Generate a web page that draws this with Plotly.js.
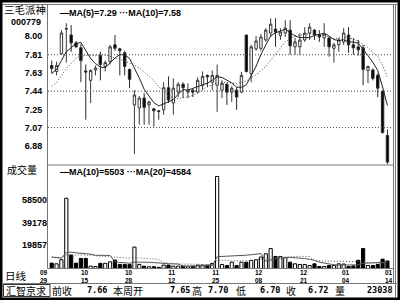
<!DOCTYPE html>
<html><head><meta charset="utf-8">
<script src="https://cdn.plot.ly/plotly-3.0.1.min.js"></script>
<style>html,body{margin:0;padding:0;background:#fff}#chart{width:400px;height:300px}</style>
</head><body><div id="chart"></div>
<script>
// ---- data (daily candles, 70 days) ----
const openP  = [7.70,7.64,7.82,8.07,8.01,7.93,7.88,7.645,7.55,7.655, 7.80,7.69,7.74,7.91,7.87,7.83,7.66,7.30,7.27,7.37, 7.30,7.26,7.24,7.25,7.475,7.32,7.43,7.51,7.43,7.45, 7.43,7.50,7.60,7.53,7.50,7.45,7.51,7.43,7.45,7.43, 8.01,7.62,7.87,7.875,7.96,8.03,8.07,8.005,8.03,8.06, 7.89,7.89,7.96,8.03,8.06,8.01,7.98,7.98,7.875,7.91, 7.94,8.01,7.91,7.89,7.88,7.65,7.655,7.60,7.44,6.99];
const highP  = [7.75,7.74,8.06,8.13,8.11,7.95,7.92,7.71,7.66,7.70, 7.84,7.75,7.91,8.01,7.88,7.85,7.67,7.45,7.39,7.42, 7.34,7.27,7.245,7.53,7.59,7.57,7.53,7.53,7.52,7.47, 7.58,7.64,7.61,7.65,7.71,7.55,7.52,7.49,7.48,7.635, 8.01,7.91,8.00,8.02,8.08,8.18,8.18,8.08,8.16,8.16, 7.98,8.03,8.09,8.13,8.07,8.06,8.13,7.99,7.93,7.98, 8.08,8.09,7.98,7.96,7.91,7.70,7.67,7.62,7.44,7.05];
const lowP   = [7.62,7.60,7.81,7.73,7.84,7.88,7.53,7.15,7.32,7.60, 7.55,7.64,7.71,7.85,7.60,7.60,7.47,6.80,7.10,7.10, 7.10,7.08,7.15,7.20,7.32,7.20,7.38,7.37,7.37,7.38, 7.42,7.45,7.48,7.45,7.23,7.37,7.30,7.33,7.25,7.42, 7.63,7.53,7.85,7.85,7.94,7.99,7.89,7.96,7.99,7.81, 7.81,7.81,7.94,7.96,7.96,7.94,7.89,7.79,7.73,7.84, 7.91,7.83,7.81,7.80,7.50,7.52,7.55,7.38,7.01,6.70];
const closeP = [7.67,7.70,8.03,8.075,7.93,7.89,7.75,7.635,7.65,7.675, 7.71,7.73,7.89,7.875,7.85,7.69,7.56,7.40,7.37,7.275, 7.33,7.24,7.235,7.475,7.35,7.47,7.51,7.475,7.45,7.43, 7.55,7.59,7.585,7.60,7.60,7.52,7.43,7.47,7.38,7.60, 7.64,7.89,7.95,7.99,8.06,8.12,8.04,8.04,8.08,7.90, 7.94,7.96,8.03,8.09,8.01,7.99,8.02,7.89,7.91,7.96, 8.03,7.91,7.88,7.86,7.66,7.69,7.57,7.47,7.02,6.72];
const volume = [4600,4000,7500,60000,11500,4600,8600,8600,2000,1700, 4400,4400,5700,7200,3500,3500,3500,18300,3500,2000, 1500,1500,1000,2900,2900,2000,2000,2000,1500,2000, 2900,2900,2900,4300,78600,3400,2600,5400,2600,5400, 5400,6900,7500,9800,12600,17000,10300,10300,9200,5400, 4000,3400,3400,2600,4000,1700,1700,2600,2600,4000, 3800,1700,2200,7000,17000,2600,2600,3400,8000,6400];
const priorClose  = [7.30,7.35,7.38,7.40,7.37,7.50,7.58,7.62,7.73];
const priorVolume = [8500,9000,7500,10000,8000,9500,8000,9000,8500,9000,11000,10000,12000,9000,10500,11000,9500,10000,11000];

const priceTicks  = [6.88, 7.07, 7.25, 7.44, 7.63, 7.81, 8.00];
const gridLevels  = [7.07, 7.44, 7.81];
const volumeTicks = [19857, 39178, 58500];
const dateTickIdx = [6.8, 15.9, 24.7, 33.8, 42.6, 51.8, 60.5, 69.3];
const dateMonths  = ['10','10','11','11','12','12','01','01'];
const dateDays    = ['15','28','12','25','08','21','04','14'];
const firstDate   = ['09','29'];

const stockName = '三毛派神', stockCode = '000779';
const priceLegend = '—MA(5)=7.29 ···MA(10)=7.58';
const volLegend   = '—MA(10)=5503 ···MA(20)=4584';
const statusItems = [['汇智京求',26,'cjk'],['前收',62,'cjk'],['7.66',97,'num'],['本周开',128,'cjk'],['7.65',180,'num'],['高',197,'cjk'],['7.70',218,'num'],['低',241,'cjk'],['6.70',270,'num'],['收',291,'cjk'],['6.72',318,'num'],['量',340,'cjk'],['23038',380,'num']];

// ---- helpers ----
const W = 400, H = 300;
const px = x => x / W, py = y => 1 - y / H;
const idx = closeP.map((_, i) => i);
function movingAvg(prior, data, n) {
  const all = prior.concat(data), off = prior.length;
  return data.map((_, i) => {
    let s = 0; for (let k = off + i - n + 1; k <= off + i; k++) s += all[k];
    return s / n;
  });
}
const ma5 = movingAvg(priorClose, closeP, 5);
const ma10 = movingAvg(priorClose, closeP, 10);
const vma10 = movingAvg(priorVolume, volume, 10);
const vma20 = movingAvg(priorVolume, volume, 20);
const up = closeP.map((c, i) => c >= openP[i]);

const xRange = [-0.76, 70.14];
const NUM = 'Liberation Sans', MONO = 'DejaVu Sans Mono', CJK = 'Noto Sans CJK SC';

const traces = [
  {type:'candlestick', x:idx, open:openP, high:highP, low:lowP, close:closeP, xaxis:'x', yaxis:'y',
   increasing:{line:{color:'#3a3a3a', width:1}, fillcolor:'#ffffff'},
   decreasing:{line:{color:'#2a2a2a', width:1}, fillcolor:'#000000'},
   whiskerwidth:0, hoverinfo:'skip', showlegend:false},
  {type:'scatter', mode:'lines', x:idx, y:ma5, xaxis:'x', yaxis:'y', line:{color:'#222', width:1}, hoverinfo:'skip'},
  {type:'scatter', mode:'lines', x:idx, y:ma10, xaxis:'x', yaxis:'y', line:{color:'#444', width:1, dash:'1px,2px'}, hoverinfo:'skip'},
  {type:'bar', x:idx, y:volume, xaxis:'x2', yaxis:'y2',
   marker:{color: up.map(u => u ? '#ffffff' : '#000000'), line:{color:'#000', width:1}}, hoverinfo:'skip'},
  {type:'scatter', mode:'lines', x:idx, y:vma10, xaxis:'x2', yaxis:'y2', line:{color:'#555', width:1}, hoverinfo:'skip'},
  {type:'scatter', mode:'lines', x:idx, y:vma20, xaxis:'x2', yaxis:'y2', line:{color:'#555', width:1, dash:'1px,2px'}, hoverinfo:'skip'}
];

function seg(x0, y0, x1, y1, color, width) {
  return {type:'line', xref:'paper', yref:'paper', x0:px(x0), y0:py(y0), x1:px(x1), y1:py(y1), line:{color:color, width:width}};
}
const shapes = [
  {type:'rect', xref:'paper', yref:'paper', x0:0, y0:0, x1:1, y1:1, line:{color:'#000', width:5}},
  seg(2.5, 4.5, 397, 4.5, '#777', 1),
  seg(47.5, 4.5, 47.5, 268.5, '#777', 1),
  seg(393.5, 4.5, 393.5, 283.5, '#777', 1),
  seg(395.5, 4.5, 395.5, 297, '#777', 1),
  seg(47.5, 165, 393.5, 165, '#777', 1),
  seg(47.5, 268.5, 393.5, 268.5, '#777', 1),
  seg(2.5, 283.5, 397, 283.5, '#777', 1),
  {type:'rect', xref:'paper', yref:'paper', x0:px(3.5), y0:py(296.5), x1:px(50), y1:py(284.5), line:{color:'#333', width:1}}
];
gridLevels.forEach(v => shapes.push({type:'line', xref:'paper', yref:'y', x0:px(48), x1:px(393), y0:v, y1:v,
  line:{color:'#444', width:1, dash:'1px,2px'}}));

function ann(text, x, y, xanchor, font) {
  return {xref:'paper', yref:'paper', x:px(x), y:py(y), xanchor:xanchor, yanchor:'middle', text:text,
          showarrow:false, borderpad:0, font:font};
}
const dateFont = {family:NUM, size:6.5, color:'#000', weight:'bold'};
const annotations = [
  ann(stockName, 25, 10, 'center', {family:CJK, size:10.5, color:'#000'}),
  ann(stockCode, 26, 22.5, 'center', {family:NUM, size:9, color:'#000', weight:'bold'}),
  ann(priceLegend, 59, 13, 'left', {family:NUM, size:9, color:'#000', weight:'bold'}),
  ann('成交量', 21.7, 169.5, 'center', {family:CJK, size:10, color:'#000'}),
  ann(volLegend, 59, 172, 'left', {family:NUM, size:9, color:'#000', weight:'bold'}),
  ann('日线', 16, 275.5, 'center', {family:CJK, size:10.5, color:'#000'}),
  ann(firstDate.join('<br>'), 44, 276.3, 'center', dateFont)
];
// date labels placed on the volume x axis scale
dateTickIdx.forEach((v, i) => annotations.push({xref:'x2', yref:'paper', x:v, y:py(276.3), xanchor:'center', yanchor:'middle',
  text: dateMonths[i] + '<br>' + dateDays[i], showarrow:false, borderpad:0, font:dateFont}));
statusItems.forEach(([t, x, kind]) => annotations.push(
  ann(t, x, 290, 'center', kind === 'cjk' ? {family:CJK, size:10, color:'#000'} : {family:MONO, size:8.5, color:'#000', weight:'bold'})));

const layout = {
  width:W, height:H, margin:{l:0, r:0, t:0, b:0}, paper_bgcolor:'#fff', plot_bgcolor:'#fff',
  showlegend:false, bargap:0.35, hovermode:false,
  xaxis:{domain:[px(48), px(393)], range:xRange, anchor:'y', showticklabels:false, ticks:'', showgrid:false,
         zeroline:false, showline:false, rangeslider:{visible:false}, fixedrange:true},
  yaxis:{domain:[py(165), py(4.5)], range:[6.69, 8.32], anchor:'x', tickvals:priceTicks,
         ticktext:priceTicks.map(v => v.toFixed(2)), ticks:'outside', ticklen:3, tickcolor:'rgba(0,0,0,0)',
         showgrid:false, zeroline:false, showline:false, tickfont:{family:NUM, size:9, color:'#000', weight:'bold'}},
  xaxis2:{domain:[px(48), px(393)], range:xRange, anchor:'y2', showticklabels:false, ticks:'',
          showgrid:false, zeroline:false, showline:false},
  yaxis2:{domain:[py(268.5), py(165)], range:[0, 88400], anchor:'x2', tickvals:volumeTicks,
          ticktext:volumeTicks.map(String), ticks:'', showgrid:false, zeroline:false, showline:false,
          tickfont:{family:NUM, size:9, color:'#000', weight:'bold'}},
  shapes:shapes, annotations:annotations
};
Plotly.newPlot('chart', traces, layout, {staticPlot:true, displayModeBar:false});
</script></body></html>
